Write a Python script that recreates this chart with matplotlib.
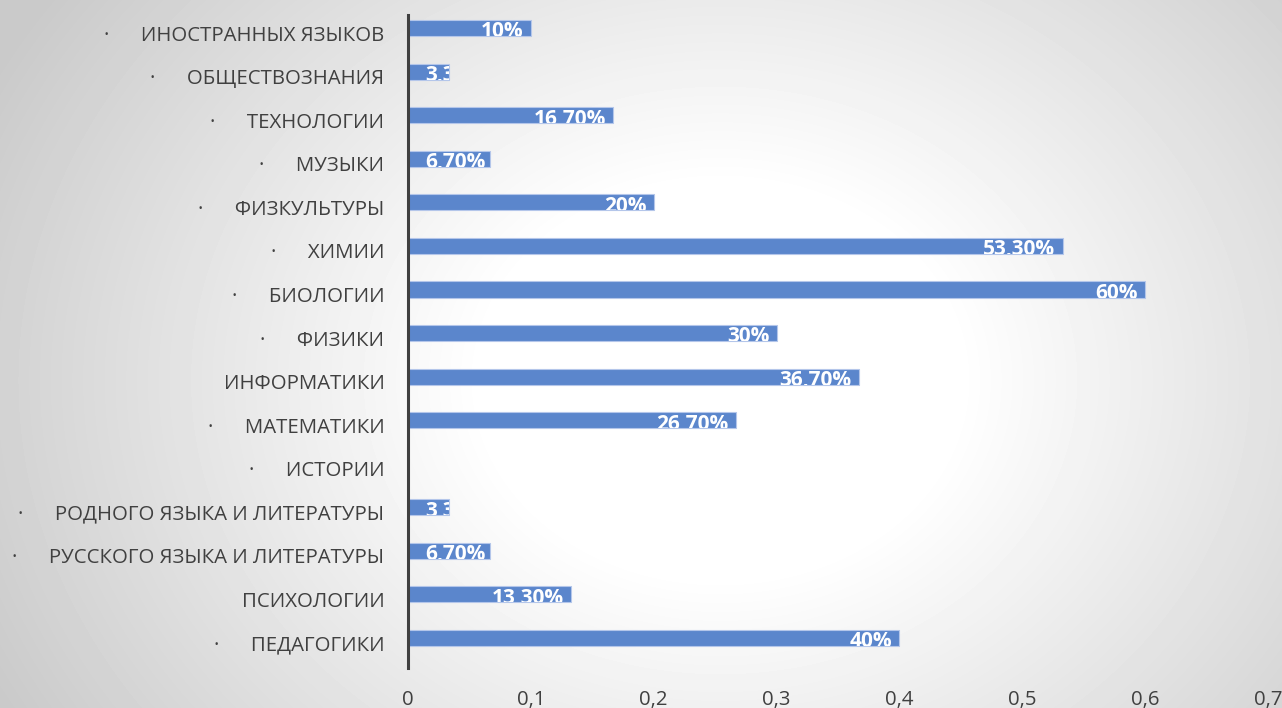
import numpy as np
import matplotlib.pyplot as plt
import matplotlib.transforms as mtransforms

plt.rcParams['font.family'] = ['Open Sans', 'DejaVu Sans']

# categories bottom -> top
categories = ['·      ПЕДАГОГИКИ', 'ПСИХОЛОГИИ', '·      РУССКОГО ЯЗЫКА И ЛИТЕРАТУРЫ',
              '·      РОДНОГО ЯЗЫКА И ЛИТЕРАТУРЫ', '·      ИСТОРИИ', '·      МАТЕМАТИКИ',
              'ИНФОРМАТИКИ', '·      ФИЗИКИ', '·      БИОЛОГИИ', '·      ХИМИИ',
              '·      ФИЗКУЛЬТУРЫ', '·      МУЗЫКИ', '·      ТЕХНОЛОГИИ',
              '·      ОБЩЕСТВОЗНАНИЯ', '·      ИНОСТРАННЫХ ЯЗЫКОВ']
values = [0.4, 0.133, 0.067, 0.033, 0.0, 0.267, 0.367, 0.3, 0.6, 0.533,
          0.2, 0.067, 0.167, 0.033, 0.1]
value_labels = ['40%', '13,30%', '6,70%', '3,30%', '', '26,70%', '36,70%', '30%',
                '60%', '53,30%', '20%', '6,70%', '16,70%', '3,30%', '10%']
x_ticks = [0, 0.1, 0.2, 0.3, 0.4, 0.5, 0.6, 0.7]
x_ticklabels = ['0', '0,1', '0,2', '0,3', '0,4', '0,5', '0,6', '0,7']

fig = plt.figure(figsize=(12.82, 7.08), dpi=100)

# radial gradient background
bg = fig.add_axes([0, 0, 1, 1], zorder=-10)
yy, xx = np.mgrid[0:708, 0:1282]
r = np.sqrt(((xx - 720) / 680.0) ** 2 + ((yy - 380) / 560.0) ** 2)
shade = 1 - 0.16 * np.clip((r - 0.35) / 0.65, 0, 1.3)
bg.imshow(shade, cmap='gray', vmin=0, vmax=1, aspect='auto', interpolation='bilinear')
bg.axis('off')

ax = fig.add_axes([408 / 1282, 1 - 668 / 708, 860 / 1282, (668 - 15) / 708])
ax.patch.set_alpha(0)

y = np.arange(len(categories))
bars = ax.barh(y, values, height=0.37, color='#5b86cc', edgecolor='#b4c6ea', linewidth=0.8)

for bar, v, lab in zip(bars, values, value_labels):
    if not lab:
        continue
    t = ax.text(max(v - 0.006, 0.063), bar.get_y() + bar.get_height() / 2 - 0.09, lab,
                ha='right', va='center', color='white', fontweight='bold', fontsize=15)
    t.set_clip_on(True)
    t.set_clip_path(bar)

ax.set_xlim(0, 0.7)
ax.set_ylim(-0.69, 14.3)
ax.set_yticks(y)
ax.set_yticklabels(categories)
ax.set_xticks(x_ticks)
ax.set_xticklabels(x_ticklabels)
ax.tick_params(axis='y', length=0, pad=17, labelsize=14.7, labelcolor='#404040')
ax.tick_params(axis='x', length=0, pad=16, labelsize=14.7, labelcolor='#404040')

# category labels sit a bit lower than the bars
shift = mtransforms.ScaledTranslation(0, -5 / 100, fig.dpi_scale_trans)
for lbl in ax.get_yticklabels():
    lbl.set_transform(lbl.get_transform() + shift)

for s in ['top', 'right', 'bottom']:
    ax.spines[s].set_visible(False)
ax.spines['left'].set_color('#404040')
ax.spines['left'].set_linewidth(2.2)

fig.savefig('out.png', dpi=100)
